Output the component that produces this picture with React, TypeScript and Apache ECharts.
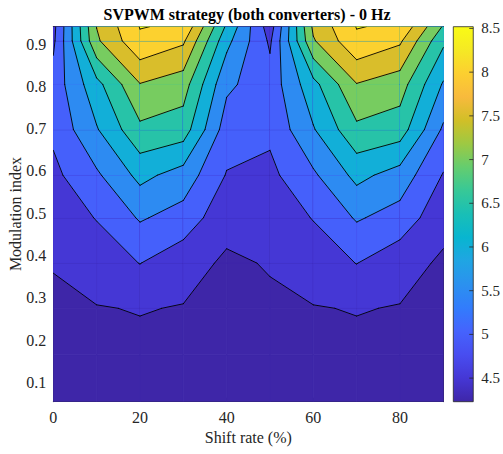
import React, { useEffect, useRef } from "react";
import * as echarts from "echarts";

// Grid coordinates
const shiftRate = [0, 10, 20, 30, 40, 50, 60, 70, 80, 90];
const modulationIndex = [0.054, 0.165, 0.275, 0.382, 0.489, 0.59, 0.698, 0.805, 0.908, 0.9415];

// Values per shift-rate column, bottom to top along modulationIndex
const zAt0 = [4.28, 4.35, 4.43, 4.52, 4.72, 4.88, 5.1, 5.2, 4.9, 4.85];
const zAt10 = [4.23, 4.32, 4.48, 4.74, 5.02, 5.42, 5.96, 6.34, 7.42, 7.51];
const zAt20 = [4.25, 4.4, 4.52, 5.01, 5.55, 6.14, 6.89, 7.48, 8.4, 8.52];
const zAt30 = [4.27, 4.35, 4.48, 4.68, 5.3, 5.79, 6.75, 7.23, 8.08, 8.43];
const zAt40 = [4.27, 4.32, 4.4, 4.43, 4.65, 4.97, 5.25, 5.6, 6.15, 6.42];
const zAt50 = [4.28, 4.35, 4.43, 4.53, 4.72, 4.88, 5.1, 5.2, 4.92, 4.75];
const zAt60 = [4.23, 4.32, 4.48, 4.74, 5.02, 5.42, 5.96, 6.34, 7.45, 7.6];
const zAt70 = [4.25, 4.4, 4.52, 5.01, 5.55, 6.14, 6.89, 7.48, 8.4, 8.52];
const zAt80 = [4.27, 4.35, 4.48, 4.68, 5.3, 5.79, 6.75, 7.23, 8.08, 8.43];
const zAt90 = [4.27, 4.32, 4.4, 4.43, 4.65, 4.97, 5.42, 5.95, 6.6, 6.95];

const contourLevels = [4.5, 5, 5.5, 6, 6.5, 7, 7.5, 8, 8.5];
const xTickValues = [0, 20, 40, 60, 80];
const yTickValues = [0.1, 0.2, 0.3, 0.4, 0.5, 0.6, 0.7, 0.8, 0.9];
const colorbarTickValues = [4.5, 5, 5.5, 6, 6.5, 7, 7.5, 8, 8.5];

const titleText = "SVPWM strategy (both converters) - 0 Hz";
const xName = "Shift rate (%)";
const yName = "Modulation index";

// parula colormap stops
const PARULA: number[][] = [
  [62, 38, 168], [69, 55, 213], [72, 77, 240], [69, 99, 253], [50, 124, 252],
  [43, 145, 239], [32, 165, 227], [8, 181, 208], [25, 191, 182], [55, 200, 151],
  [100, 205, 111], [157, 201, 67], [209, 191, 39], [248, 186, 61], [252, 207, 48],
  [245, 233, 36], [249, 251, 21],
];

function parula(t: number): string {
  const tt = Math.max(0, Math.min(1, t));
  const n = PARULA.length - 1;
  const f = tt * n;
  const i = Math.min(Math.floor(f), n - 1);
  const u = f - i;
  const a = PARULA[i];
  const b = PARULA[i + 1];
  const c = [0, 1, 2].map((k) => Math.round(a[k] + (b[k] - a[k]) * u));
  return `rgb(${c[0]},${c[1]},${c[2]})`;
}

const FONT = "Liberation Serif";
const AXIS_COLOR = "#262626";
type P = [number, number, number];

function clipPoly(poly: P[], f: (z: number) => number): P[] {
  const out: P[] = [];
  for (let k = 0; k < poly.length; k++) {
    const a = poly[k];
    const b = poly[(k + 1) % poly.length];
    const da = f(a[2]);
    const db = f(b[2]);
    if (da >= 0) out.push(a);
    if (da >= 0 !== db >= 0) {
      const t = da / (da - db);
      out.push([a[0] + (b[0] - a[0]) * t, a[1] + (b[1] - a[1]) * t, a[2] + (b[2] - a[2]) * t]);
    }
  }
  return out;
}

export default function App() {
  const ref = useRef<HTMLDivElement>(null);

  useEffect(() => {
    if (!ref.current) return;
    const chart = echarts.init(ref.current, null, { renderer: "svg" });

    const zColumns = [zAt0, zAt10, zAt20, zAt30, zAt40, zAt50, zAt60, zAt70, zAt80, zAt90];
    const allZ = zColumns.flat();
    const zMin = Math.min(...allZ);
    const zMax = Math.max(...allZ);
    const bandColors = [parula(0), ...contourLevels.map((lo) => parula((lo - zMin) / (zMax - zMin)))];

    const cells: number[][] = [];
    for (let i = 0; i < shiftRate.length - 1; i++) {
      for (let j = 0; j < modulationIndex.length - 1; j++) {
        cells.push([(shiftRate[i] + shiftRate[i + 1]) / 2, (modulationIndex[j] + modulationIndex[j + 1]) / 2, i, j]);
      }
    }

    const cellCorners = (i: number, j: number): P[] => [
      [shiftRate[i], modulationIndex[j], zColumns[i][j]],
      [shiftRate[i + 1], modulationIndex[j], zColumns[i + 1][j]],
      [shiftRate[i + 1], modulationIndex[j + 1], zColumns[i + 1][j + 1]],
      [shiftRate[i], modulationIndex[j + 1], zColumns[i][j + 1]],
    ];

    // filled contour bands (painter's order inside each grid cell)
    const renderFill = (params: any, api: any) => {
      const corners = cellCorners(api.value(2), api.value(3));
      const children: any[] = [];
      for (let k = 0; k <= contourLevels.length; k++) {
        let poly = corners;
        if (k > 0) {
          const lo = contourLevels[k - 1];
          poly = clipPoly(poly, (z) => z - lo);
        }
        if (poly.length < 3) continue;
        children.push({
          type: "polygon",
          shape: { points: poly.map((p) => api.coord([p[0], p[1]])) },
          style: { fill: bandColors[k], stroke: bandColors[k], lineWidth: 0.8, lineJoin: "round" },
          silent: true,
        });
      }
      return { type: "group", children };
    };

    // contour lines (marching squares)
    const renderLines = (params: any, api: any) => {
      const c = cellCorners(api.value(2), api.value(3));
      const children: any[] = [];
      for (const L of contourLevels) {
        const pts: (number[] | null)[] = [];
        for (let e = 0; e < 4; e++) {
          const a = c[e];
          const b = c[(e + 1) % 4];
          if (a[2] >= L !== b[2] >= L) {
            const t = (L - a[2]) / (b[2] - a[2]);
            pts.push([a[0] + (b[0] - a[0]) * t, a[1] + (b[1] - a[1]) * t]);
          } else pts.push(null);
        }
        const found = pts.filter((p) => p !== null) as number[][];
        const segs: number[][][] = [];
        if (found.length === 2) segs.push([found[0], found[1]]);
        else if (found.length === 4) {
          if (c[0][2] >= L) {
            segs.push([pts[0]!, pts[1]!]);
            segs.push([pts[2]!, pts[3]!]);
          } else {
            segs.push([pts[1]!, pts[2]!]);
            segs.push([pts[3]!, pts[0]!]);
          }
        }
        for (const s of segs) {
          const p1 = api.coord(s[0]);
          const p2 = api.coord(s[1]);
          children.push({
            type: "line",
            shape: { x1: p1[0], y1: p1[1], x2: p2[0], y2: p2[1] },
            style: { stroke: "#000000", lineWidth: 0.9, lineCap: "round" },
            silent: true,
          });
        }
      }
      return { type: "group", children };
    };

    const gradientStops = PARULA.map((col, k) => ({
      offset: 1 - k / (PARULA.length - 1),
      color: `rgb(${col.join(",")})`,
    })).reverse();

    // colour bar: gradient rect with inward ticks on its right edge
    const renderColorbar = (params: any, api: any) => {
      const tl = api.coord([0, zMax]);
      const br = api.coord([1, zMin]);
      const children: any[] = [
        {
          type: "rect",
          shape: { x: tl[0], y: tl[1], width: br[0] - tl[0], height: br[1] - tl[1] },
          style: { fill: new echarts.graphic.LinearGradient(0, 0, 0, 1, gradientStops), stroke: AXIS_COLOR, lineWidth: 0.8 },
          silent: true,
        },
      ];
      for (const v of colorbarTickValues) {
        const p = api.coord([1, v]);
        children.push({
          type: "line",
          shape: { x1: p[0], y1: p[1], x2: p[0] - 4, y2: p[1] },
          style: { stroke: AXIS_COLOR, lineWidth: 0.8 },
          silent: true,
        });
      }
      return { type: "group", children };
    };

    const axisLine = { show: true, onZero: false, lineStyle: { color: AXIS_COLOR, width: 1 } };
    const txt = (text: string, x: number, y: number, extra: any = {}) => ({
      type: "text",
      x,
      y,
      z: 100,
      ...extra,
      style: {
        text,
        textAlign: "center",
        textVerticalAlign: "middle",
        fontFamily: FONT,
        fontSize: 16,
        fill: AXIS_COLOR,
        ...(extra.style || {}),
      },
    });

    const option: any = {
      animation: false,
      backgroundColor: "#ffffff",
      grid: [
        { left: 53.3, top: 26.7, width: 390, height: 375 },
        { left: 453.3, top: 26.7, width: 21.7, height: 375 },
      ],
      graphic: [
        txt(titleText, 247, 14, { style: { fontWeight: "bold", fill: "#000000" } }),
        txt(xName, 248.3, 437),
        txt(yName, 15, 214, { rotation: Math.PI / 2 }),
      ],
      xAxis: [
        {
          gridIndex: 0, type: "value", min: 0, max: 90, interval: 10, position: "bottom", axisLine,
          axisTick: { show: true, inside: true, length: 4, customValues: xTickValues, lineStyle: { color: AXIS_COLOR } },
          axisLabel: { customValues: xTickValues, margin: 8, fontFamily: FONT, fontSize: 16, color: AXIS_COLOR },
          splitLine: { show: false },
        },
        {
          gridIndex: 0, type: "value", min: 0, max: 90, interval: 10, position: "top", axisLine,
          axisTick: { show: true, inside: true, length: 4, customValues: xTickValues, lineStyle: { color: AXIS_COLOR } },
          axisLabel: { show: false }, splitLine: { show: false },
        },
        { gridIndex: 1, type: "value", min: 0, max: 1, show: false },
      ],
      yAxis: [
        {
          gridIndex: 0, type: "value", min: modulationIndex[0], max: modulationIndex[modulationIndex.length - 1],
          position: "left", axisLine,
          axisTick: { show: true, inside: true, length: 4, customValues: yTickValues, lineStyle: { color: AXIS_COLOR } },
          axisLabel: { customValues: yTickValues, margin: 7, fontFamily: FONT, fontSize: 16, color: AXIS_COLOR, formatter: (v: number) => v.toFixed(1) },
          splitLine: { show: false },
        },
        {
          gridIndex: 0, type: "value", min: modulationIndex[0], max: modulationIndex[modulationIndex.length - 1],
          position: "right", axisLine,
          axisTick: { show: true, inside: true, length: 4, customValues: yTickValues, lineStyle: { color: AXIS_COLOR } },
          axisLabel: { show: false }, splitLine: { show: false },
        },
        {
          gridIndex: 1, type: "value", min: zMin, max: zMax, position: "right",
          axisLine: { show: false }, axisTick: { show: false }, splitLine: { show: false },
          axisLabel: {
            customValues: colorbarTickValues, margin: 8, fontFamily: FONT, fontSize: 15, color: AXIS_COLOR,
            showMinLabel: true, showMaxLabel: true, formatter: (v: number) => String(v),
          },
        },
      ],
      series: [
        { type: "custom", xAxisIndex: 0, yAxisIndex: 0, data: cells, renderItem: renderFill, clip: true, silent: true, z: 1 },
        { type: "custom", xAxisIndex: 0, yAxisIndex: 0, data: cells, renderItem: renderLines, clip: true, silent: true, z: 2 },
        { type: "custom", xAxisIndex: 2, yAxisIndex: 2, data: [[0.5, (zMin + zMax) / 2]], renderItem: renderColorbar, silent: true, z: 1 },
      ],
    };

    chart.setOption(option);
    return () => chart.dispose();
  }, []);

  return <div ref={ref} style={{ position: "absolute", left: 0, top: 0, width: 503, height: 454, background: "#ffffff" }} />;
}
